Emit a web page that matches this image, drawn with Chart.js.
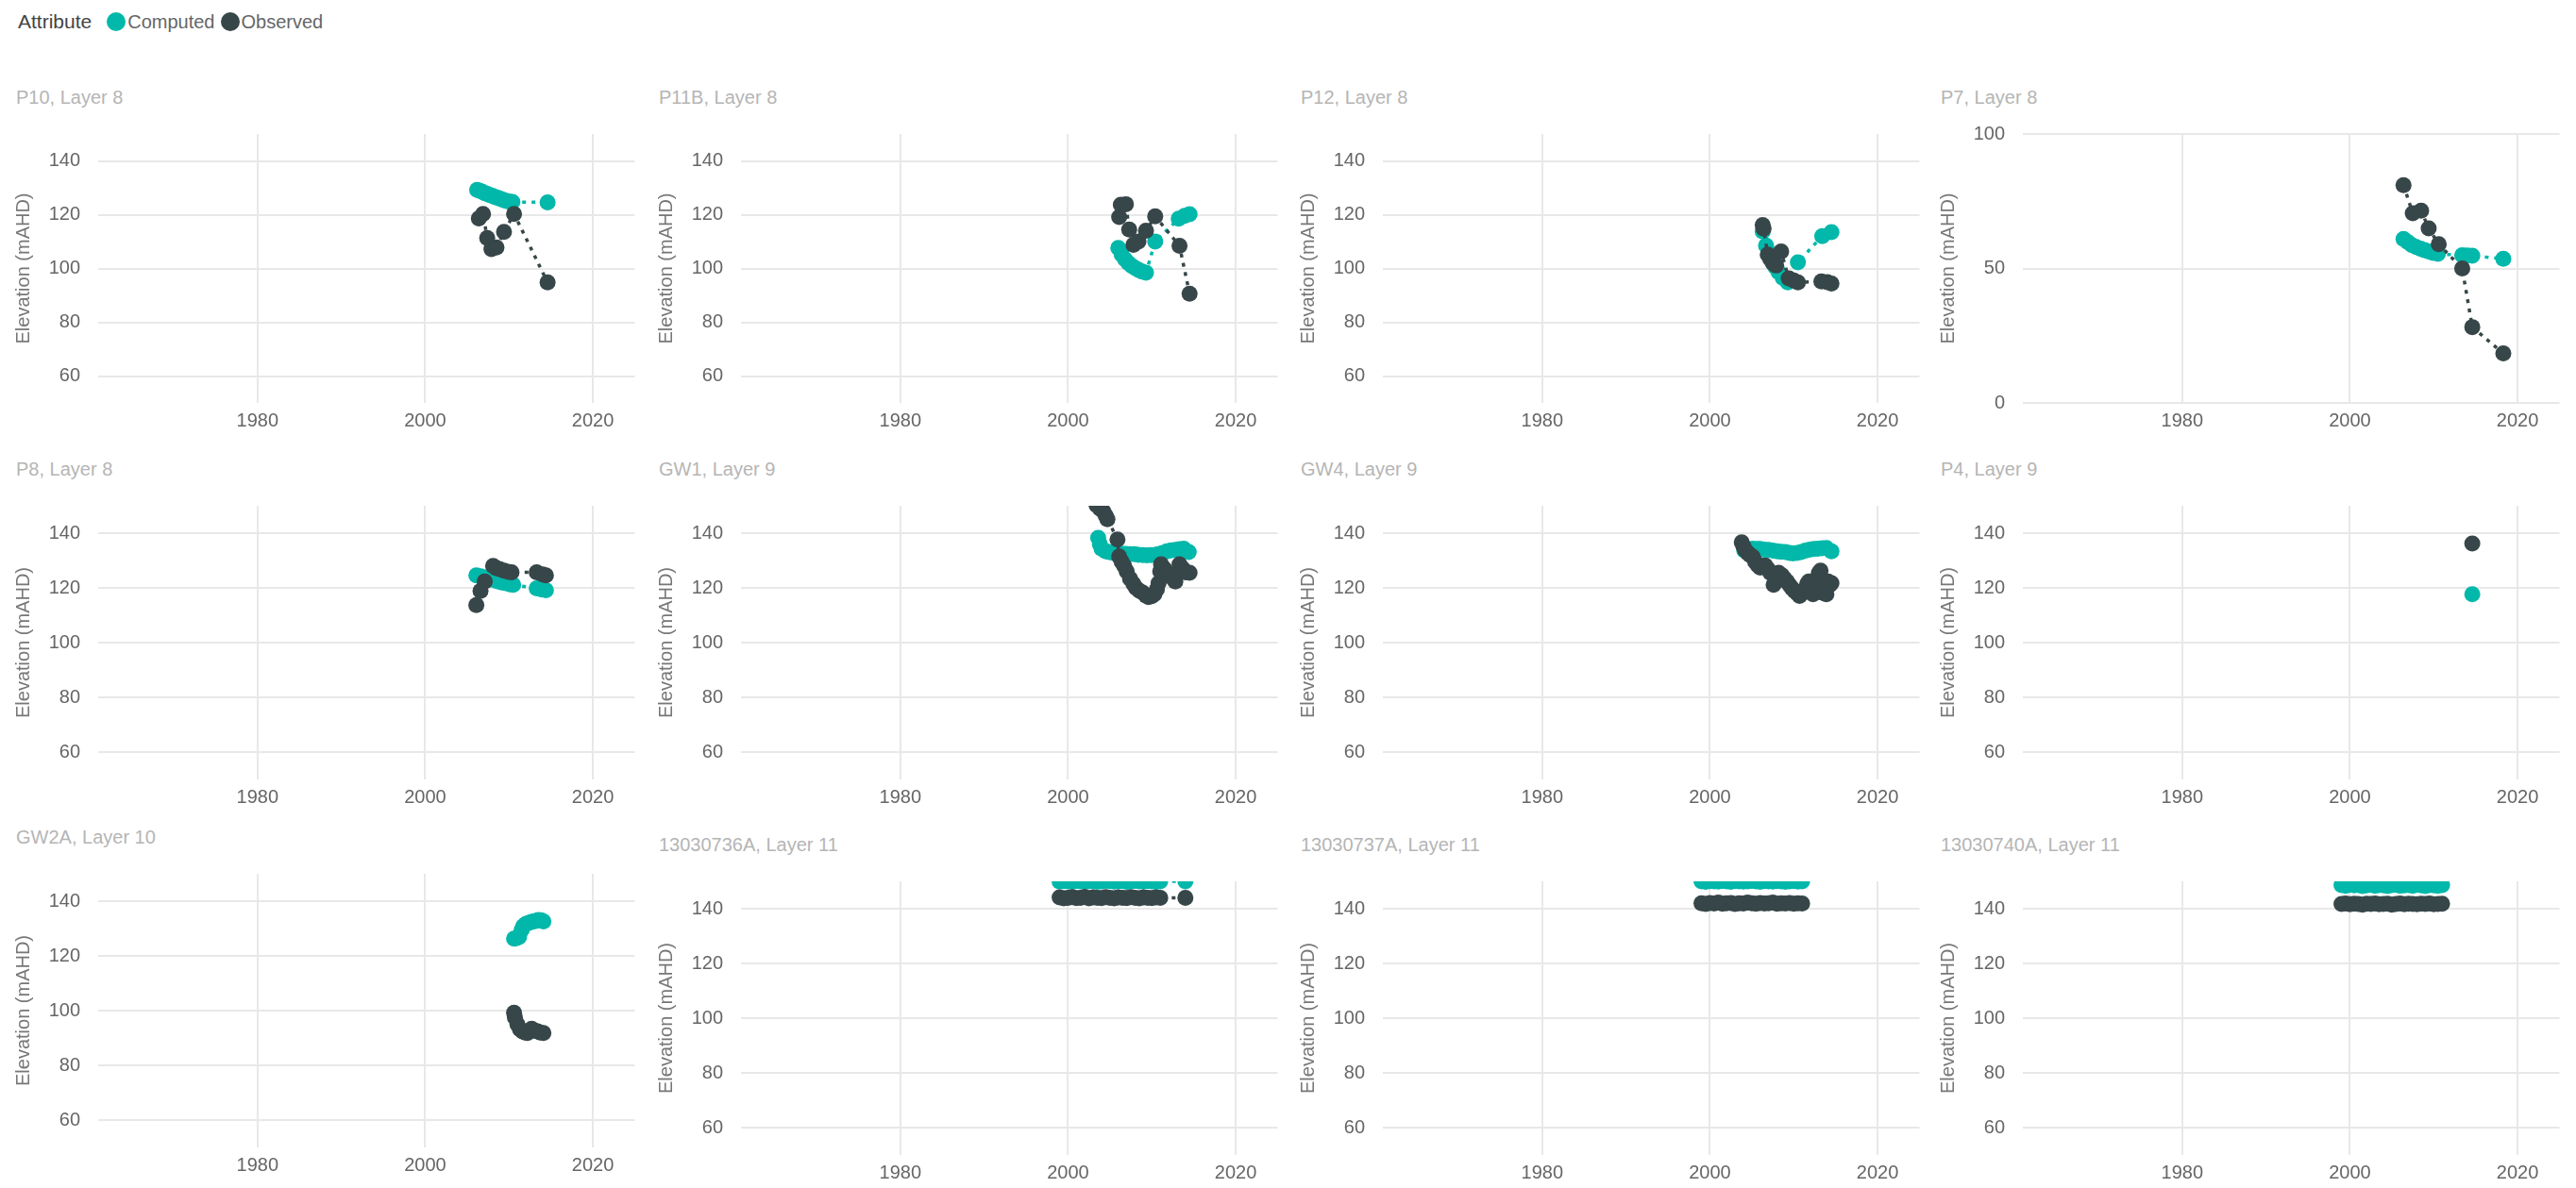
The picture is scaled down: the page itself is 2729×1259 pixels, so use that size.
<!DOCTYPE html>
<html>
<head>
<meta charset="utf-8">
<title>Groundwater elevation – computed vs observed</title>
<script src="https://cdn.jsdelivr.net/npm/chart.js@4/dist/chart.umd.min.js"></script>
<style>
  html, body { margin: 0; padding: 0; background: #ffffff; }
  body { width: 2729px; height: 1259px; position: relative; overflow: hidden;
         font-family: "Liberation Sans", Arial, sans-serif; }
  .legend { position: absolute; left: 19px; top: 9px; height: 28px; display: flex; align-items: center;
            font-size: 20px; color: #666666; white-space: nowrap; }
  .legend .head { color: #444444; margin-right: 16px; font-size: 21px; }
  .legend .item { display: flex; align-items: center; margin-right: 6px; }
  .legend .sw { width: 20px; height: 20px; border-radius: 50%; display: inline-block; margin-right: 2px; }
  .panel-title { position: absolute; font-size: 20px; line-height: 24px; color: #b5b5b5; white-space: nowrap; }
  canvas { position: absolute; }
</style>
</head>
<body>
<div class="legend" id="legend"></div>
<div id="grid"></div>
<script>
// ---- data -------------------------------------------------------------
const attributeNames = ["Computed", "Observed"];
const panelTitles = [
  "P10, Layer 8", "P11B, Layer 8", "P12, Layer 8", "P7, Layer 8",
  "P8, Layer 8", "GW1, Layer 9", "GW4, Layer 9", "P4, Layer 9",
  "GW2A, Layer 10", "13030736A, Layer 11", "13030737A, Layer 11", "13030740A, Layer 11"
];
const yearTicks = [1980, 2000, 2020];
const elevTicks = [60, 80, 100, 120, 140];
const elevTicksP7 = [0, 50, 100];

// [decimal year, elevation mAHD]
const p10Computed = [[2006.2,129.2],[2006.5,128.9],[2006.8,128.5],[2007.1,128.0],[2007.4,127.7],[2007.7,127.3],[2008.0,127.0],[2008.3,126.6],[2008.6,126.3],[2008.9,126.0],[2009.2,125.6],[2009.5,125.3],[2009.8,125.0],[2010.1,124.8],[2010.4,124.7],[2014.6,124.6]];
const p10Observed = [[2006.4,118.6],[2006.9,120.3],[2007.4,111.3],[2007.9,107.2],[2008.5,107.8],[2009.4,113.6],[2010.6,120.3],[2014.6,94.8]];

const p11bComputed = [[2006.0,107.6],[2006.4,105.2],[2006.8,103.4],[2007.2,102.0],[2007.6,101.0],[2008.0,100.2],[2008.4,99.5],[2008.8,98.9],[2009.3,98.4],[2010.4,110.0],[2013.2,118.5],[2013.9,119.6],[2014.5,120.2]];
const p11bObserved = [[2006.1,119.1],[2006.3,123.7],[2006.9,123.9],[2007.3,114.5],[2007.8,108.8],[2008.4,110.0],[2009.3,114.0],[2010.4,119.4],[2013.3,108.4],[2014.5,90.6]];

const p12Computed = [[2006.3,113.8],[2006.7,108.5],[2007.0,106.0],[2007.4,103.0],[2007.8,100.5],[2008.2,98.6],[2008.7,96.5],[2009.3,94.8],[2010.5,102.3],[2013.4,112.0],[2014.5,113.5]];
const p12Observed = [[2006.3,116.1],[2006.4,114.8],[2006.9,105.2],[2007.2,103.6],[2007.5,102.0],[2007.9,101.1],[2008.5,106.3],[2009.4,96.3],[2010.0,95.5],[2010.5,94.8],[2013.3,95.2],[2014.0,94.9],[2014.5,94.4]];

const p7Computed = [[2006.4,61.0],[2006.9,59.8],[2007.4,58.7],[2007.9,58.0],[2008.4,57.4],[2008.9,56.8],[2009.4,56.3],[2009.9,55.8],[2010.5,55.4],[2013.4,54.9],[2014.0,54.8],[2014.6,54.7],[2018.3,53.6]];
const p7Observed = [[2006.4,81.0],[2007.5,70.5],[2008.5,71.5],[2009.4,64.9],[2010.6,59.0],[2013.4,50.0],[2014.6,28.2],[2018.3,18.4]];

const p8Computed = [[2006.1,124.6],[2006.6,124.2],[2007.1,123.8],[2007.6,123.4],[2008.1,122.9],[2008.6,122.4],[2009.1,122.0],[2009.6,121.7],[2010.1,121.3],[2010.5,121.1],[2013.3,119.8],[2013.9,119.4],[2014.4,119.1]];
const p8Observed = [[2006.1,113.7],[2006.6,118.9],[2007.1,122.3],[2008.1,128.0],[2008.5,127.2],[2008.9,126.8],[2009.4,126.3],[2009.9,125.9],[2010.3,125.7],[2013.3,125.7],[2014.0,124.9],[2014.4,124.6]];

const gw1Computed = [[2003.6,138.3],[2003.8,136.0],[2004.0,134.3],[2004.5,133.4],[2004.9,133.1],[2005.4,132.8],[2005.9,132.6],[2006.4,132.5],[2006.9,132.4],[2007.4,132.3],[2007.9,132.3],[2008.4,132.1],[2008.9,132.0],[2009.4,131.9],[2009.9,132.0],[2010.4,132.1],[2010.8,132.3],[2011.3,132.8],[2011.8,133.4],[2012.3,133.7],[2012.8,133.9],[2013.3,134.1],[2013.8,134.3],[2014.4,133.1]];
const gw1Observed = [[2003.4,150.3],[2003.8,149.0],[2004.2,148.0],[2004.5,146.4],[2004.7,145.1],[2005.9,137.7],[2006.1,131.5],[2006.4,129.6],[2006.7,128.0],[2007.0,126.0],[2007.4,123.4],[2007.8,121.5],[2008.1,120.0],[2008.5,119.0],[2008.9,118.3],[2009.3,117.2],[2009.6,116.6],[2010.0,117.0],[2010.3,117.7],[2010.6,119.5],[2010.8,121.7],[2011.0,126.0],[2011.1,128.6],[2011.5,127.0],[2011.8,125.7],[2012.3,124.0],[2012.8,122.3],[2013.1,125.5],[2013.3,128.6],[2013.7,127.0],[2014.0,125.7],[2014.5,125.5]];

const gw4Computed = [[2004.1,133.7],[2004.6,134.0],[2005.1,134.3],[2005.6,134.2],[2006.0,134.2],[2006.5,134.0],[2007.0,133.9],[2007.5,133.6],[2008.0,133.4],[2008.5,133.2],[2009.0,133.1],[2009.5,132.8],[2009.9,132.6],[2010.4,132.8],[2010.9,133.1],[2011.4,133.6],[2011.9,134.0],[2012.4,134.2],[2012.9,134.3],[2013.4,134.5],[2013.9,134.6],[2014.5,133.4]];
const gw4Observed = [[2003.8,136.6],[2004.0,135.2],[2004.2,133.9],[2004.5,132.8],[2004.8,132.0],[2005.1,131.4],[2005.4,129.6],[2005.7,128.3],[2006.0,127.4],[2006.3,127.9],[2006.6,128.2],[2006.9,127.0],[2007.2,125.5],[2007.6,121.1],[2007.9,124.0],[2008.2,125.5],[2008.6,124.6],[2008.9,123.4],[2009.2,122.3],[2009.5,121.0],[2009.8,119.8],[2010.1,118.9],[2010.4,118.0],[2010.7,117.1],[2011.0,118.2],[2011.3,119.4],[2011.6,121.5],[2011.8,122.3],[2012.1,119.0],[2012.3,117.7],[2012.6,120.5],[2012.8,123.4],[2013.0,125.4],[2013.2,126.3],[2013.4,118.3],[2013.7,117.9],[2013.9,117.7],[2014.1,122.3],[2014.3,121.0],[2014.5,121.7]];

const p4Computed = [[2014.6,117.7]];
const p4Observed = [[2014.6,136.2]];

const gw2aComputed = [[2010.6,126.3],[2010.9,126.5],[2011.2,126.9],[2011.5,129.5],[2011.7,130.9],[2012.0,131.6],[2012.3,132.0],[2012.6,132.3],[2012.9,132.6],[2013.2,132.8],[2013.5,133.1],[2013.8,133.0],[2014.1,132.6]];
const gw2aObserved = [[2010.6,99.2],[2010.7,97.5],[2011.0,95.0],[2011.3,93.2],[2011.6,92.4],[2011.9,92.0],[2012.2,91.8],[2012.5,92.6],[2012.7,93.4],[2013.0,92.8],[2013.4,92.4],[2013.7,92.0],[2014.1,91.8]];

// half-yearly records for the 1303xxxx bores
const bandYears = [1999.0,1999.5,2000.0,2000.5,2001.0,2001.5,2002.0,2002.5,2003.0,2003.5,2004.0,2004.5,2005.0,2005.5,2006.0,2006.5,2007.0,2007.5,2008.0,2008.5,2009.0,2009.5,2010.0,2010.5,2011.0];
const b736Years = bandYears.concat([2014.0]);
const b736Computed = [149.9,150.1,150.0,149.8,150.2,150.0,149.9,150.1,150.0,149.8,150.0,150.2,150.1,149.9,150.0,150.1,149.8,150.0,150.2,150.0,149.9,150.1,150.0,149.8,150.0,150.0];
const b736Observed = [144.1,143.8,144.0,144.2,143.9,144.0,144.3,143.8,144.1,144.0,143.9,144.2,144.0,143.8,144.1,144.0,143.9,144.2,144.0,143.8,144.1,144.0,143.9,144.1,144.0,144.0];
const b737Computed = [150.0,149.8,150.1,150.0,149.9,150.2,150.0,149.8,150.1,150.0,149.9,150.0,150.2,150.0,149.8,150.1,150.0,149.9,150.1,150.0,149.8,150.0,150.1,149.9,150.0];
const b737Observed = [142.0,141.7,142.1,141.9,142.2,141.8,142.0,142.1,141.7,142.0,141.9,142.2,142.0,141.8,142.1,141.9,142.0,142.2,141.8,142.0,141.9,142.1,141.8,142.0,141.9];
const b740Computed = [148.6,148.4,148.7,148.5,148.6,148.3,148.5,148.7,148.4,148.6,148.5,148.3,148.6,148.7,148.4,148.5,148.6,148.4,148.7,148.5,148.3,148.6,148.5,148.4,148.6];
const b740Observed = [141.7,141.9,141.6,141.8,141.7,141.5,141.8,141.7,141.9,141.6,141.7,141.8,141.5,141.7,141.9,141.6,141.8,141.7,141.6,141.8,141.7,141.9,141.6,141.7,141.8];

// ---- assembly -----------------------------------------------------------
const zipYears = (years, values) => years.map((yr, i) => [yr, values[i]]);

const panels = [
  { title: panelTitles[0],  computed: p10Computed,  observed: p10Observed,  ticks: elevTicks,   min: 50, max: 150 },
  { title: panelTitles[1],  computed: p11bComputed, observed: p11bObserved, ticks: elevTicks,   min: 50, max: 150 },
  { title: panelTitles[2],  computed: p12Computed,  observed: p12Observed,  ticks: elevTicks,   min: 50, max: 150 },
  { title: panelTitles[3],  computed: p7Computed,   observed: p7Observed,   ticks: elevTicksP7, min: 0,  max: 100 },
  { title: panelTitles[4],  computed: p8Computed,   observed: p8Observed,   ticks: elevTicks,   min: 50, max: 150 },
  { title: panelTitles[5],  computed: gw1Computed,  observed: gw1Observed,  ticks: elevTicks,   min: 50, max: 150 },
  { title: panelTitles[6],  computed: gw4Computed,  observed: gw4Observed,  ticks: elevTicks,   min: 50, max: 150 },
  { title: panelTitles[7],  computed: p4Computed,   observed: p4Observed,   ticks: elevTicks,   min: 50, max: 150 },
  { title: panelTitles[8],  computed: gw2aComputed, observed: gw2aObserved, ticks: elevTicks,   min: 50, max: 150 },
  { title: panelTitles[9],  computed: zipYears(b736Years, b736Computed), observed: zipYears(b736Years, b736Observed), ticks: elevTicks, min: 50, max: 150 },
  { title: panelTitles[10], computed: zipYears(bandYears, b737Computed), observed: zipYears(bandYears, b737Observed), ticks: elevTicks, min: 50, max: 150 },
  { title: panelTitles[11], computed: zipYears(bandYears, b740Computed), observed: zipYears(bandYears, b740Observed), ticks: elevTicks, min: 50, max: 150 }
];

// ---- layout & style ----------------------------------------------------
const COLORS = { Computed: "#01B8AA", Observed: "#374649" };
const TICK_FONT = '"Liberation Sans", Arial, sans-serif';
const colLeft = [1, 682, 1362, 2040];
const rowPlotTop = [142, 536, 926];
const rowPlotHeight = [285, 290, 290];
const PAD_TOP = 67, AXIS_X_H = 38, PAD_LEFT = 12, AXIS_Y_W = 91, CANVAS_W = 680;

// legend
const legend = document.getElementById("legend");
legend.innerHTML = '<span class="head">Attribute</span>' + attributeNames.map(n =>
  `<span class="item"><span class="sw" style="background:${COLORS[n]}"></span>${n}</span>`).join("");

const grid = document.getElementById("grid");

function series(name, pts, order) {
  const c = COLORS[name];
  return {
    label: name,
    data: pts.map(([x, y]) => ({ x, y })),
    borderColor: c,
    backgroundColor: c,
    pointBackgroundColor: c,
    pointBorderWidth: 0,
    pointRadius: 8.5,
    borderWidth: 3.5,
    borderDash: [4, 6],
    tension: 0,
    order: order,
    clip: 0
  };
}

panels.forEach((p, i) => {
  const row = Math.floor(i / 4), col = i % 4;
  const shift = (row === 2 && col > 0) ? 8 : 0;
  const plotTop = rowPlotTop[row] + shift;
  const plotH = rowPlotHeight[row];

  const t = document.createElement("div");
  t.className = "panel-title";
  t.textContent = p.title;
  t.style.left = (colLeft[col] + 16) + "px";
  t.style.top = (plotTop - 39 - 12) + "px";
  grid.appendChild(t);

  const cv = document.createElement("canvas");
  const h = PAD_TOP + plotH + AXIS_X_H;
  cv.width = CANVAS_W; cv.height = h;
  cv.style.width = CANVAS_W + "px"; cv.style.height = h + "px";
  cv.style.left = colLeft[col] + "px";
  cv.style.top = (plotTop - PAD_TOP) + "px";
  grid.appendChild(cv);

  new Chart(cv, {
    type: "line",
    data: { datasets: [series("Computed", p.computed, 1), series("Observed", p.observed, 0)] },
    options: {
      responsive: false,
      animation: false,
      events: [],
      layout: { padding: { left: PAD_LEFT, top: PAD_TOP, right: 2, bottom: 0 } },
      plugins: { legend: { display: false }, tooltip: { enabled: false }, title: { display: false } },
      scales: {
        x: {
          type: "linear", min: 1961, max: 2025,
          afterBuildTicks: s => { s.ticks = yearTicks.map(v => ({ value: v })); },
          afterFit: s => { s.height = AXIS_X_H; },
          grid: { color: "#e8e8e8", lineWidth: 2, drawTicks: false },
          border: { display: false },
          ticks: { padding: 7, color: "#666666", maxRotation: 0, font: { family: TICK_FONT, size: 20 },
                   callback: v => String(v) }
        },
        y: {
          type: "linear", min: p.min, max: p.max,
          afterBuildTicks: s => { s.ticks = p.ticks.map(v => ({ value: v })); },
          afterFit: s => { s.width = AXIS_Y_W; },
          grid: { color: "#e8e8e8", lineWidth: 2, drawTicks: false },
          border: { display: false },
          ticks: { padding: 19, color: "#666666", font: { family: TICK_FONT, size: 20 },
                   callback: v => String(v) },
          title: { display: true, text: "Elevation (mAHD)", color: "#777777", padding: 0,
                   font: { family: TICK_FONT, size: 20 } }
        }
      }
    }
  });
});
</script>
</body>
</html>
